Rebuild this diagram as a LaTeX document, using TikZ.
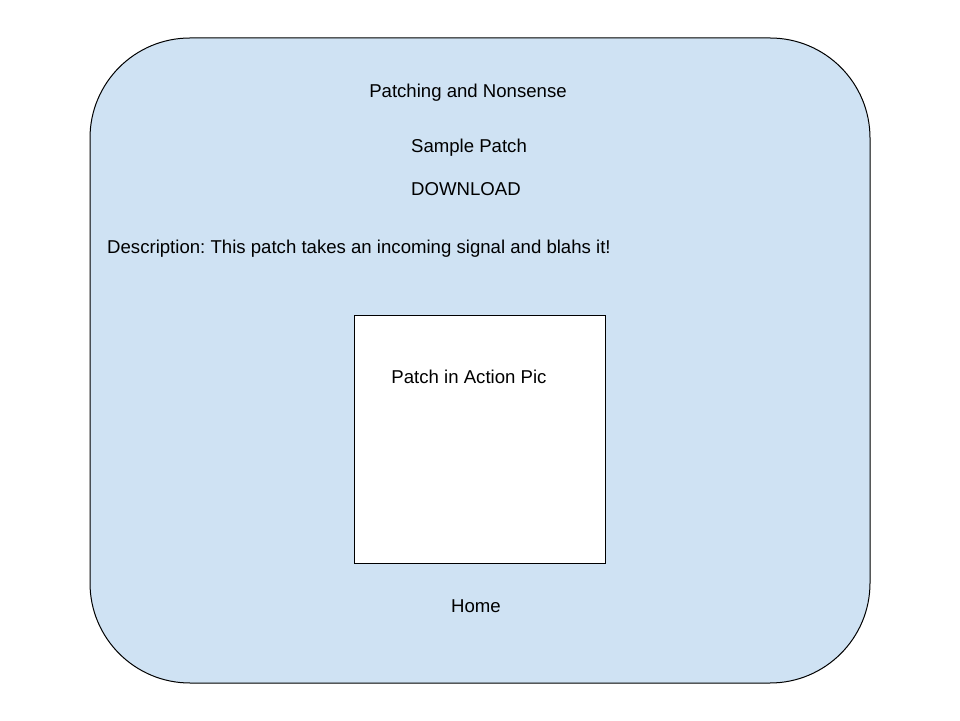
\documentclass[tikz,border=0pt]{standalone}
\usepackage{fontspec}
\setmainfont{Liberation Sans}
\usepackage{tikz}
\usetikzlibrary{positioning}
\usepackage{xcolor}
\definecolor{pagebg}{HTML}{CFE2F3}
\frenchspacing

\begin{document}
\begin{tikzpicture}[x=1pt,y=1pt,on grid,node distance=55pt,
  every node/.style={font=\fontsize{18.6}{22}\selectfont, inner sep=0pt},
  frame/.style={draw, line width=1pt, fill=pagebg, rounded corners=100pt, minimum width=780pt, minimum height=645pt},
  picbox/.style={draw, line width=1pt, fill=white, minimum width=251pt, minimum height=248pt}]

        \useasboundingbox (0,0) rectangle (960,720);

        \node[frame] (page) at (480,359.5) {};

        \node[] (title) at (468,627) {Patching and Nonsense};
        \node[] (sample) [below=of title, xshift=1pt] {Sample Patch};
        \node[] (download) [node distance=41pt, below=of sample, xshift=-3pt] {DOWNLOAD};
        \node[anchor=west] (desc) at (107,471) {Description: This patch takes an incoming signal and blahs it!};

        \node[picbox] (pic) at (479.5,280) {};
        \node[] (piclabel) at (469,343) {Patch in Action Pic};

        \node[] (home) [node distance=166pt, below=of pic, xshift=-3.5pt] {Home};

      \end{tikzpicture}
\end{document}
